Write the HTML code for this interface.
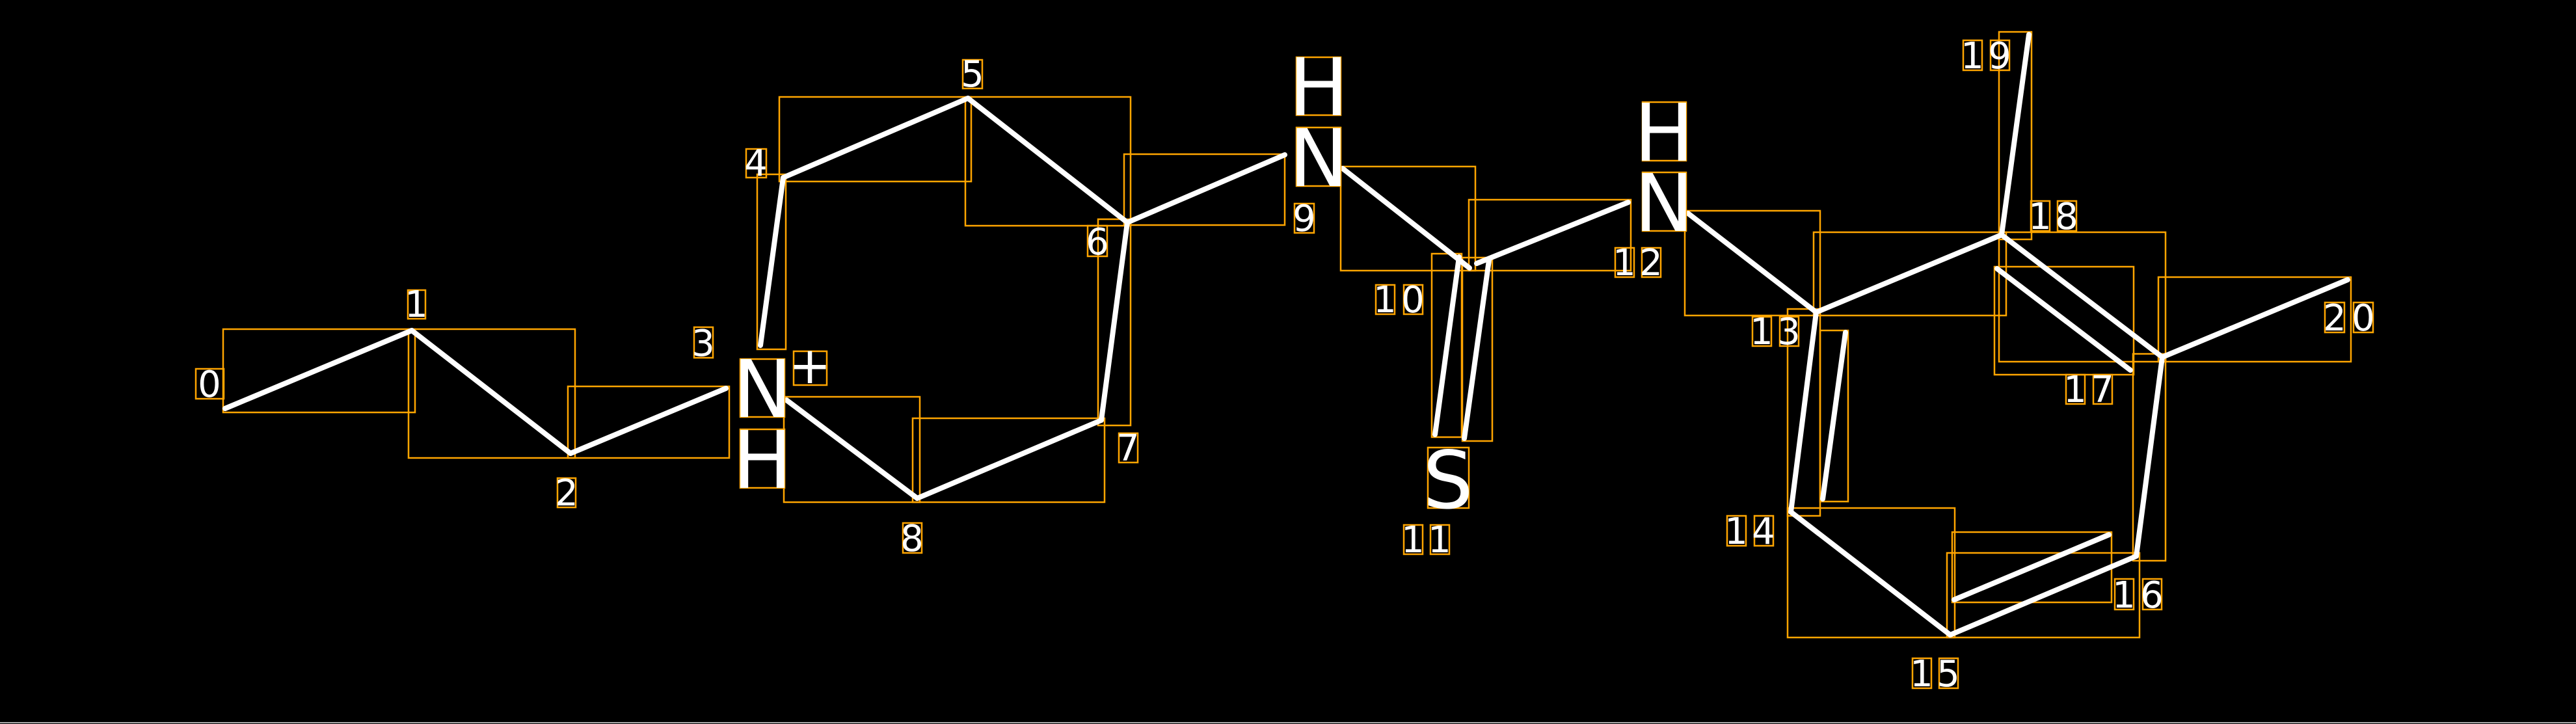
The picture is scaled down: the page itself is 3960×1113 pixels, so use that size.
<!DOCTYPE html>
<html><head><meta charset="utf-8"><style>
html,body{margin:0;padding:0;background:#000;}
svg{display:block;}
text{font-family:"DejaVu Sans","Liberation Sans",sans-serif;fill:#fff;}
.b{stroke:#fff;stroke-width:8;stroke-linecap:round;fill:none;}
.o{stroke:#ffa500;stroke-width:2.5;fill:none;}
.d{font-size:56px;text-anchor:middle;}
.L{font-size:122px;text-anchor:middle;}
</style></head><body>
<svg width="3960" height="1113" viewBox="0 0 3960 1113" xmlns="http://www.w3.org/2000/svg">
<rect x="0" y="0" width="3960" height="1113" fill="#000"/>
<line x1="0" y1="1111" x2="3960" y2="1111" stroke="#aaa" stroke-width="2"/>
<!-- orange bond boxes -->
<g class="o">
<rect x="343" y="506" width="295" height="128"/>
<rect x="628" y="506" width="256" height="198"/>
<rect x="873" y="594" width="248" height="110"/>
<rect x="1198" y="149" width="295" height="130"/>
<rect x="1484" y="149" width="254" height="198"/>
<rect x="1164" y="268" width="44" height="269"/>
<rect x="1688" y="337" width="50" height="317"/>
<rect x="1205" y="610" width="209" height="162"/>
<rect x="1403" y="643" width="295" height="129"/>
<rect x="1728" y="237" width="247" height="109"/>
<rect x="2061" y="256" width="207" height="160"/>
<rect x="2258" y="307" width="249" height="109"/>
<rect x="2201" y="390" width="46" height="282"/>
<rect x="2248" y="396" width="46" height="282"/>
<rect x="2590" y="324" width="208" height="161"/>
<rect x="2788" y="357" width="296" height="128"/>
<rect x="2748" y="475" width="50" height="318"/>
<rect x="2798" y="508" width="43" height="263"/>
<rect x="2748" y="781" width="257" height="199"/>
<rect x="2993" y="850" width="296" height="130"/>
<rect x="3001" y="818" width="245" height="108"/>
<rect x="3279" y="544" width="50" height="318"/>
<rect x="3073" y="357" width="256" height="199"/>
<rect x="3066" y="410" width="214" height="166"/>
<rect x="3073" y="49" width="50" height="319"/>
<rect x="3318" y="426" width="296" height="130"/>
</g>
<!-- bonds -->
<g class="b">
<line x1="346" y1="628" x2="633" y2="508"/>
<line x1="633" y1="508" x2="877" y2="697"/>
<line x1="877" y1="697" x2="1116" y2="597"/>
<line x1="1169" y1="531" x2="1204" y2="273"/>
<line x1="1204" y1="273" x2="1488" y2="151"/>
<line x1="1488" y1="151" x2="1733" y2="342"/>
<line x1="1733" y1="342" x2="1693" y2="646"/>
<line x1="1209" y1="615" x2="1410" y2="766"/>
<line x1="1410" y1="766" x2="1693" y2="646"/>
<line x1="1733" y1="342" x2="1975" y2="238"/>
<line x1="2064" y1="259" x2="2259" y2="412"/>
<line x1="2270" y1="405" x2="2503" y2="311"/>
<line x1="2243" y1="395" x2="2206" y2="668"/>
<line x1="2289" y1="400" x2="2251" y2="674"/>
<line x1="2595" y1="328" x2="2792" y2="480"/>
<line x1="2792" y1="480" x2="3077" y2="361"/>
<line x1="2792" y1="480" x2="2753" y2="787"/>
<line x1="2837" y1="511" x2="2802" y2="767"/>
<line x1="2753" y1="787" x2="2998" y2="976"/>
<line x1="2998" y1="976" x2="3284" y2="855"/>
<line x1="3004" y1="922" x2="3242" y2="822"/>
<line x1="3284" y1="855" x2="3324" y2="549"/>
<line x1="3077" y1="361" x2="3324" y2="549"/>
<line x1="3070" y1="413" x2="3275" y2="569"/>
<line x1="3077" y1="361" x2="3119" y2="53"/>
<line x1="3324" y1="549" x2="3609" y2="430"/>
</g>
<!-- atom letters -->
<g class="o">
<rect x="1993" y="88" width="68" height="89"/><rect x="1993" y="196" width="68" height="90"/>
<rect x="2525" y="157" width="67" height="90"/><rect x="2525" y="265" width="67" height="90"/>
<rect x="1138" y="552" width="68" height="89"/><rect x="1138" y="660" width="68" height="90"/>
<rect x="1220" y="540" width="51" height="52"/>
<rect x="2195" y="688" width="63" height="93"/>
</g>
<text class="L" x="2027" y="177">H</text><text class="L" x="2027" y="286">N</text>
<text class="L" x="2558" y="247">H</text><text class="L" x="2558" y="355">N</text>
<text class="L" x="1172" y="641">N</text><text class="L" x="1172" y="750">H</text>
<text x="1245" y="589" style="font-size:78px;text-anchor:middle">+</text>
<text class="L" x="2226" y="781">S</text>
<!-- index labels -->
<g class="o">
<rect x="301" y="567" width="43" height="46"/>
<rect x="627" y="446" width="27" height="44"/>
<rect x="857" y="735" width="28" height="45"/>
<rect x="1067" y="503" width="29" height="47"/>
<rect x="1147" y="229" width="31" height="44"/>
<rect x="1480" y="92" width="30" height="44"/>
<rect x="1672" y="347" width="30" height="47"/>
<rect x="1720" y="666" width="29" height="45"/>
<rect x="1388" y="804" width="29" height="46"/>
<rect x="1990" y="313" width="30" height="45"/>
<rect x="2115" y="438" width="29" height="45"/><rect x="2158" y="438" width="29" height="45"/>
<rect x="2158" y="807" width="29" height="45"/><rect x="2199" y="807" width="29" height="45"/>
<rect x="2483" y="381" width="29" height="45"/><rect x="2524" y="381" width="29" height="45"/>
<rect x="2694" y="487" width="29" height="45"/><rect x="2736" y="487" width="29" height="45"/>
<rect x="2655" y="793" width="29" height="46"/><rect x="2697" y="793" width="29" height="46"/>
<rect x="2940" y="1012" width="29" height="46"/><rect x="2981" y="1012" width="29" height="46"/>
<rect x="3251" y="890" width="29" height="47"/><rect x="3294" y="890" width="29" height="47"/>
<rect x="3176" y="576" width="29" height="45"/><rect x="3218" y="576" width="29" height="45"/>
<rect x="3122" y="309" width="29" height="46"/><rect x="3163" y="309" width="29" height="46"/>
<rect x="3018" y="62" width="29" height="46"/><rect x="3060" y="62" width="29" height="46"/>
<rect x="3574" y="465" width="30" height="46"/><rect x="3618" y="465" width="30" height="46"/>
</g>
<g class="d">
<text x="322" y="610">0</text>
<text x="640" y="487">1</text>
<text x="871" y="777">2</text>
<text x="1081" y="547">3</text>
<text x="1162" y="270">4</text>
<text x="1495" y="133">5</text>
<text x="1687" y="391">6</text>
<text x="1734" y="708">7</text>
<text x="1402" y="847">8</text>
<text x="2005" y="355">9</text>
<text x="2129" y="480">1</text><text x="2172" y="480">0</text>
<text x="2172" y="849">1</text><text x="2213" y="849">1</text>
<text x="2497" y="423">1</text><text x="2538" y="423">2</text>
<text x="2708" y="529">1</text><text x="2750" y="529">3</text>
<text x="2669" y="836">1</text><text x="2711" y="836">4</text>
<text x="2954" y="1055">1</text><text x="2995" y="1055">5</text>
<text x="3265" y="934">1</text><text x="3308" y="934">6</text>
<text x="3190" y="618">1</text><text x="3232" y="618">7</text>
<text x="3136" y="352">1</text><text x="3177" y="352">8</text>
<text x="3032" y="105">1</text><text x="3074" y="105">9</text>
<text x="3589" y="508">2</text><text x="3633" y="508">0</text>
</g>
</svg>
</body></html>
